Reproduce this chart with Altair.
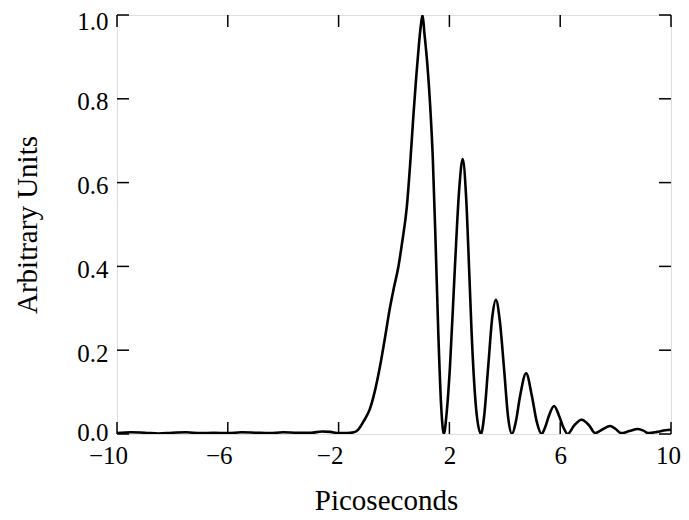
import altair as alt
import pandas as pd

# Curve samples
t_ps = [-10, -9.5, -9, -8.5, -8, -7.5, -7, -6.5, -6, -5.5, -5, -4.5, -4, -3.5, -3,
        -2.6, -2.3, -2, -1.7, -1.45,
        -1.3, -1.1, -0.87, -0.7, -0.51, -0.3, -0.15, 0.0, 0.16, 0.3, 0.46, 0.6, 0.7, 0.8, 0.9, 0.96, 1.03,
        1.1, 1.2, 1.3, 1.4, 1.5, 1.6, 1.7, 1.8,
        1.9, 2.02, 2.2, 2.36, 2.48, 2.6, 2.72, 2.8, 2.98, 3.14,
        3.25, 3.4, 3.55, 3.68, 3.82, 3.98, 4.12, 4.26,
        4.4, 4.55, 4.77, 4.98, 5.15, 5.33,
        5.45, 5.6, 5.78, 5.95, 6.12, 6.27,
        6.5, 6.77, 7.05, 7.26,
        7.55, 7.8, 8.0, 8.2,
        8.5, 8.8, 9.0, 9.2,
        9.5, 9.8, 10]
amplitude = [0.002, 0.004, 0.003, 0.001, 0.003, 0.004, 0.002, 0.003, 0.002, 0.004, 0.003, 0.002, 0.004, 0.003, 0.003,
             0.006, 0.005, 0.002, 0.002, 0.004,
             0.01, 0.03, 0.06, 0.1, 0.16, 0.24, 0.30, 0.35, 0.40, 0.46, 0.54, 0.66, 0.76, 0.85, 0.93, 0.97, 1.0,
             0.955, 0.885, 0.79, 0.66, 0.46, 0.24, 0.07, 0.0,
             0.05, 0.16, 0.40, 0.59, 0.656, 0.57, 0.38, 0.245, 0.05, 0.0,
             0.04, 0.16, 0.28, 0.32, 0.27, 0.15, 0.04, 0.0,
             0.03, 0.09, 0.145, 0.09, 0.03, 0.0,
             0.015, 0.045, 0.067, 0.045, 0.015, 0.0,
             0.02, 0.034, 0.02, 0.002,
             0.012, 0.019, 0.012, 0.002,
             0.007, 0.012, 0.008, 0.002,
             0.005, 0.009, 0.01]

x_ticks = [-10, -6, -2, 2, 6, 10]
y_ticks = [0.0, 0.2, 0.4, 0.6, 0.8, 1.0]

W, H = 554, 419
TL = 12
FONT = "Liberation Serif"
LFS = 25
TFS = 29

df = pd.DataFrame({"t": t_ps, "a": amplitude})
xt = pd.DataFrame({"v": x_ticks})
yt = pd.DataFrame({"v": y_ticks})

xscale = alt.Scale(domain=[-10, 10], nice=False, zero=False)
yscale = alt.Scale(domain=[0, 1], nice=False)

line = alt.Chart(df).mark_line(color="black", strokeWidth=2.6, interpolate="monotone", clip=True).encode(
    x=alt.X("t:Q", scale=xscale,
            axis=alt.Axis(values=x_ticks, title="Picoseconds", ticks=False, domain=False, grid=False,
                          labelFlush=False, labelOverlap=False,
                          labelOffset={"condition": [{"test": "datum.value < 0", "value": -9},
                                                     {"test": "datum.value == 10", "value": -3}],
                                       "value": 0},
                          labelFont=FONT, labelFontSize=LFS, labelColor="black", labelPadding=9,
                          titleFont=FONT, titleFontSize=TFS, titleFontWeight="normal", titleColor="black",
                          titlePadding=18, titleX=W / 2 - 8)),
    y=alt.Y("a:Q", scale=yscale,
            axis=alt.Axis(values=y_ticks, format=".1f", title="Arbitrary Units", ticks=False, domain=False,
                          grid=False, labelFlush=False, labelOverlap=False,
                          labelOffset={"condition": [{"test": "datum.value >= 0.99", "value": 6},
                                                     {"test": "datum.value <= 0.01", "value": -2}],
                                       "value": 3},
                          labelFont=FONT, labelFontSize=LFS, labelColor="black", labelPadding=9,
                          titleFont=FONT, titleFontSize=TFS, titleFontWeight="normal", titleColor="black",
                          titlePadding=34)),
)

bt = alt.Chart(xt).mark_rule(color="black", strokeWidth=1.5).encode(
    x=alt.X("v:Q", scale=xscale), y=alt.value(H - TL), y2=alt.value(H))
tt = alt.Chart(xt).mark_rule(color="black", strokeWidth=1.5).encode(
    x=alt.X("v:Q", scale=xscale), y=alt.value(0), y2=alt.value(TL))
lt = alt.Chart(yt).mark_rule(color="black", strokeWidth=1.5).encode(
    y=alt.Y("v:Q", scale=yscale), x=alt.value(0), x2=alt.value(TL))
rt = alt.Chart(yt).mark_rule(color="black", strokeWidth=1.5).encode(
    y=alt.Y("v:Q", scale=yscale), x=alt.value(W - TL), x2=alt.value(W))

chart = alt.layer(line, bt, tt, lt, rt).properties(
    width=W, height=H,
    autosize=alt.AutoSizeParams(type="none"),
    padding={"left": 109, "top": 7, "right": 10, "bottom": 86},
).configure_view(stroke="black", strokeWidth=2.5).configure(background="white")

chart.save("out.html", embed_options={"renderer": "svg", "actions": False})
